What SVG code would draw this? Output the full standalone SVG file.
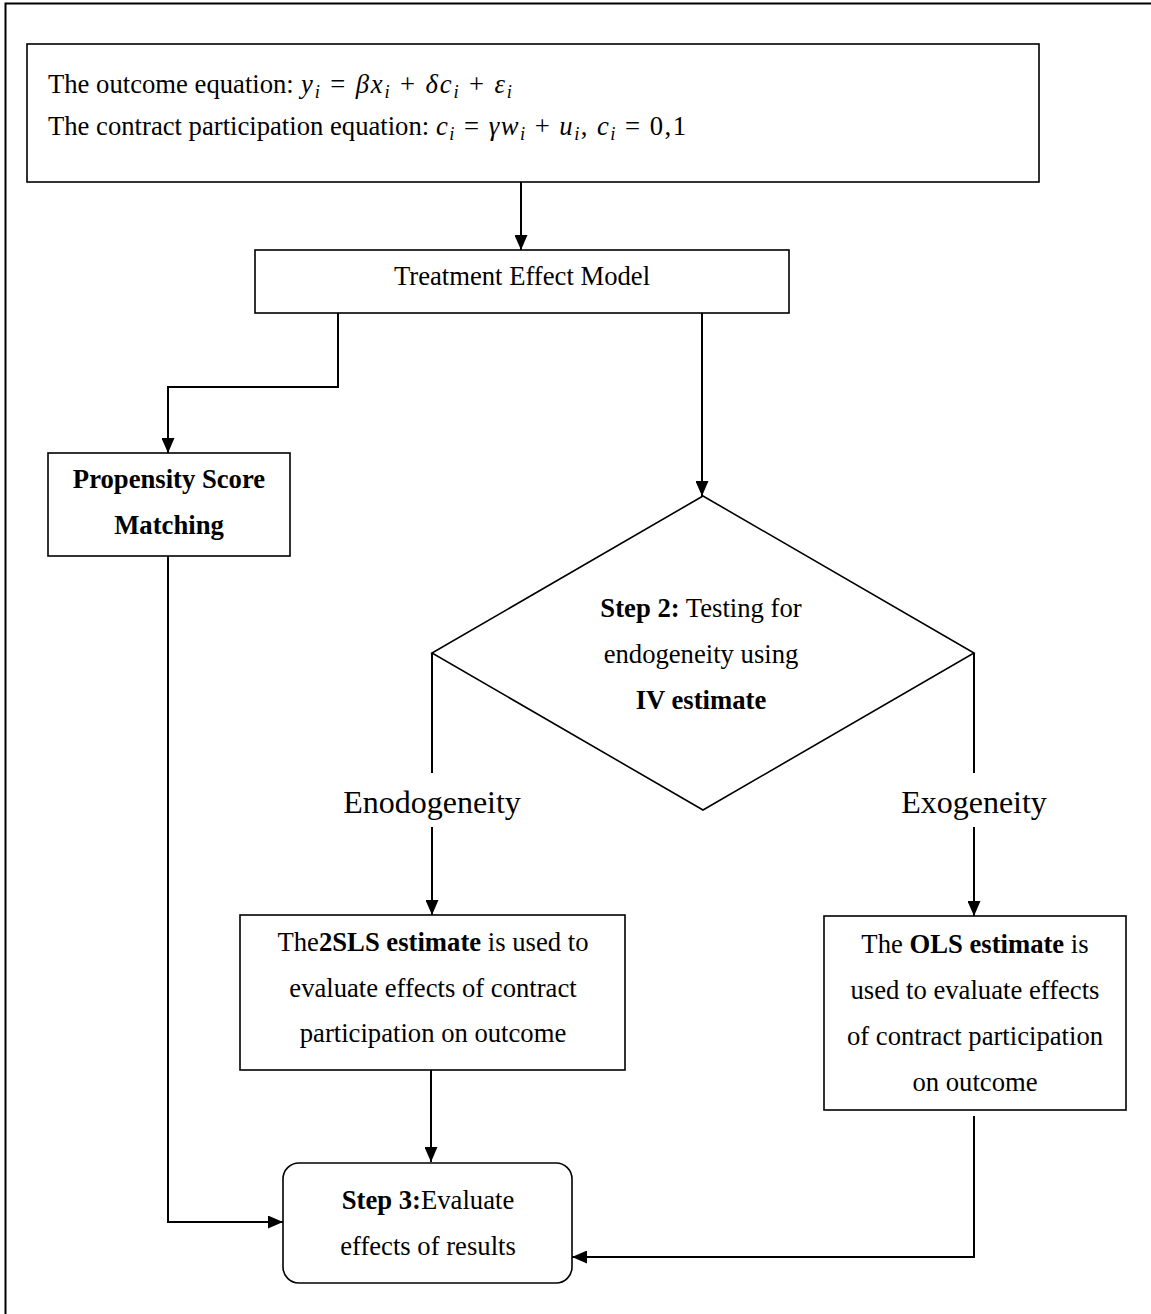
<svg xmlns="http://www.w3.org/2000/svg" width="1151" height="1314" viewBox="0 0 1151 1314">
  <defs>
    <style>
      text { font-family: "Liberation Serif", "Times New Roman", serif; font-size: 26.67px; fill: #000; }
      .c { text-anchor: middle; }
      .b { font-weight: bold; }
      .v { font-style: italic; }
      .s { font-style: italic; font-size: 18.5px; }
      .lbl { font-size: 32px; text-anchor: middle; }
      .box { fill: #fff; stroke: #000; stroke-width: 1.6; }
      .frame { fill: none; stroke: #000; stroke-width: 2; }
      .link { fill: none; stroke: #000; stroke-width: 2; }
      .arrow { marker-end: url(#head); }
    </style>
    <marker id="head" viewBox="0 0 15 13" refX="15" refY="6.5" markerWidth="15" markerHeight="13" markerUnits="userSpaceOnUse" orient="auto">
      <path d="M0,0 L15,6.5 L0,13 Z" fill="#000"/>
    </marker>
  </defs>

  <rect width="1151" height="1314" fill="#fff"/>

  <!-- page frame, running off the right and bottom edges -->
  <path class="frame" d="M5.5,1314 V3.5 H1151"/>

  <!-- connectors -->
  <g id="connectors">
    <path class="link arrow" d="M521,182 V250"/>
    <path class="link arrow" d="M338,313 V387 H168 V453"/>
    <path class="link arrow" d="M702,313 V496"/>
    <path class="link" d="M432,653 V773"/>
    <path class="link arrow" d="M432,827 V915"/>
    <path class="link" d="M974,653 V773"/>
    <path class="link arrow" d="M974,827 V916"/>
    <path class="link arrow" d="M431,1070 V1162"/>
    <path class="link arrow" d="M168,556 V1222 H283"/>
    <path class="link arrow" d="M974,1116 V1257 H572"/>
  </g>

  <!-- model equations -->
  <g id="equations">
    <rect class="box" x="27" y="44" width="1012" height="138"/>
    <text x="48" y="93">The outcome equation:</text>
    <text x="301" y="93" textLength="211" lengthAdjust="spacing"><tspan class="v">y</tspan><tspan class="s" dy="5">i</tspan><tspan dy="-5"> = </tspan><tspan class="v">βx</tspan><tspan class="s" dy="5">i</tspan><tspan dy="-5"> + </tspan><tspan class="v">δc</tspan><tspan class="s" dy="5">i</tspan><tspan dy="-5"> + </tspan><tspan class="v">ε</tspan><tspan class="s" dy="5">i</tspan></text>
    <text x="48" y="135">The contract participation equation:</text>
    <text x="436" y="135" textLength="250" lengthAdjust="spacing"><tspan class="v">c</tspan><tspan class="s" dy="5">i</tspan><tspan dy="-5"> = </tspan><tspan class="v">γw</tspan><tspan class="s" dy="5">i</tspan><tspan dy="-5"> + </tspan><tspan class="v">u</tspan><tspan class="s" dy="5">i</tspan><tspan dy="-5">, </tspan><tspan class="v">c</tspan><tspan class="s" dy="5">i</tspan><tspan dy="-5"> = 0,1</tspan></text>
  </g>

  <g id="treatment">
    <rect class="box" x="255" y="250" width="534" height="63"/>
    <text class="c" x="522" y="285">Treatment Effect Model</text>
  </g>

  <g id="psm">
    <rect class="box" x="48" y="453" width="242" height="103"/>
    <text class="c b" x="169" y="488">Propensity Score</text>
    <text class="c b" x="169" y="534">Matching</text>
  </g>

  <g id="step2">
    <path class="box" d="M703,496 L974,653 L703,810 L432,653 Z"/>
    <text class="c" x="701" y="617"><tspan class="b">Step 2:</tspan> Testing for</text>
    <text class="c" x="701" y="663">endogeneity using</text>
    <text class="c b" x="701" y="709">IV estimate</text>
  </g>

  <g id="label-endo">
    <text class="lbl" x="432" y="813">Enodogeneity</text>
  </g>
  <g id="label-exo">
    <text class="lbl" x="974" y="813">Exogeneity</text>
  </g>

  <g id="tsls">
    <rect class="box" x="240" y="915" width="385" height="155"/>
    <text class="c" x="433" y="951">The<tspan class="b">2SLS estimate</tspan> is used to</text>
    <text class="c" x="433" y="997">evaluate effects of contract</text>
    <text class="c" x="433" y="1042">participation on outcome</text>
  </g>

  <g id="ols">
    <rect class="box" x="824" y="916" width="302" height="194"/>
    <text class="c" x="975" y="953">The <tspan class="b">OLS estimate</tspan> is</text>
    <text class="c" x="975" y="999">used to evaluate effects</text>
    <text class="c" x="975" y="1045">of contract participation</text>
    <text class="c" x="975" y="1091">on outcome</text>
  </g>

  <g id="step3">
    <rect class="box" x="283" y="1163" width="289" height="120" rx="16" ry="16"/>
    <text class="c" x="428" y="1209"><tspan class="b">Step 3:</tspan>Evaluate</text>
    <text class="c" x="428" y="1255">effects of results</text>
  </g>
</svg>
